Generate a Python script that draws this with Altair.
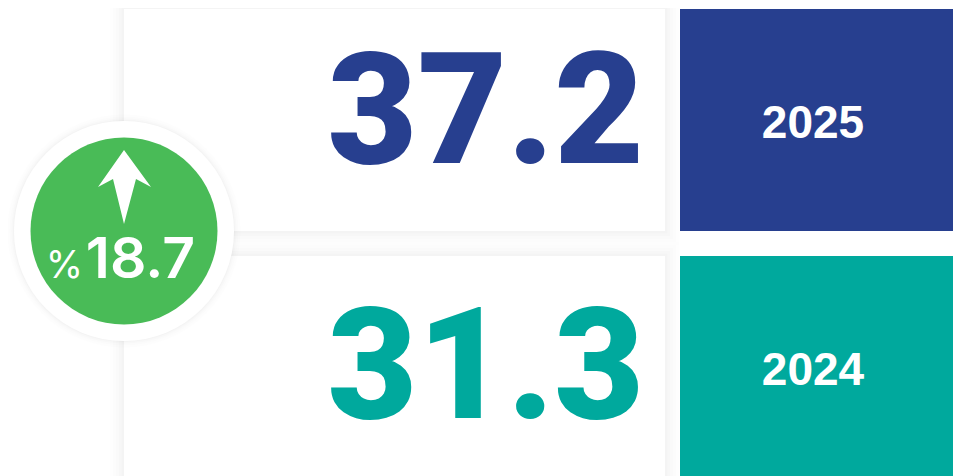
import altair as alt
import pandas as pd

years = ["2025", "2024"]
values = ["37.2", "31.3"]
colors = ["#273f8f", "#00a99d"]
change = ["18.7"]
percent = ["%"]

rows = pd.DataFrame({"year": years, "value": values, "color": colors})
yscale = alt.Scale(domain=years, paddingInner=25 / 247, paddingOuter=1 / 247, round=False)
Y = alt.Y("year:N", scale=yscale, axis=None)
col = alt.Color("color:N", scale=None)
badge = pd.DataFrame({"change": change, "percent": percent})
layers = []

# soft shadows round the panels
for w, o in [(28, 0.004), (22, 0.006), (16, 0.009), (10, 0.011), (5, 0.013)]:
    layers.append(alt.Chart(rows).mark_rect(fill="#ffffff", fillOpacity=0, stroke="#000000", strokeWidth=w, strokeOpacity=o)
                  .encode(x=alt.value(116), x2=alt.value(657), y=Y))
layers.append(alt.Chart(rows).mark_rect(fill="#ffffff").encode(x=alt.value(116), x2=alt.value(657), y=Y))
layers.append(alt.Chart(rows).mark_rect().encode(x=alt.value(672), x2=alt.value(945), y=Y, color=col))

for i, dy in enumerate([43, 51]):
    sub = rows.iloc[[i]]
    layers.append(alt.Chart(sub).mark_text(font="Roboto", fontWeight=900, fontSize=155, align="right",
                                           baseline="alphabetic", dy=dy)
                  .encode(x=alt.value(636), y=Y, text="value:N", color=col))
layers.append(alt.Chart(rows).mark_text(font="Liberation Sans", fontWeight="bold", fontSize=46, align="center",
                                        baseline="middle", dy=4, color="#ffffff")
              .encode(x=alt.value(805), y=Y, text="year:N"))

# badge
cx, cy = alt.value(116), alt.value(223)
for s, o in [(54500, 0.006), (52500, 0.009), (50800, 0.012), (49500, 0.014)]:
    layers.append(alt.Chart(badge).mark_circle(color="#000000", opacity=o, size=s).encode(x=cx, y=cy))
layers.append(alt.Chart(badge).mark_circle(color="#ffffff", opacity=1, size=48400).encode(x=cx, y=cy))
layers.append(alt.Chart(badge).mark_circle(color="#49bb57", opacity=1, size=34969).encode(x=cx, y=cy))
layers.append(alt.Chart(badge).mark_point(shape="M0,-37L-26,0L-11,-8L0,37L12,-8L27,0Z", size=4, filled=True,
                                          color="#ffffff", opacity=1, strokeWidth=0)
              .encode(x=cx, y=alt.value(179)))
layers.append(alt.Chart(badge).mark_text(font="Inter", fontWeight=600, fontSize=57, align="right", baseline="alphabetic",
                                         color="#ffffff")
              .encode(x=alt.value(187), y=alt.value(270), text="change:N"))
layers.append(alt.Chart(badge).mark_text(font="Inter", fontSize=38, align="right", baseline="alphabetic", color="#ffffff")
              .encode(x=alt.value(75), y=alt.value(270), text="percent:N"))

chart = alt.layer(*layers).properties(width=945, height=471, padding=0, autosize=alt.AutoSizeParams(type="none")).configure_view(stroke=None)
chart.save("out.html", embed_options={"renderer": "svg", "actions": False})
